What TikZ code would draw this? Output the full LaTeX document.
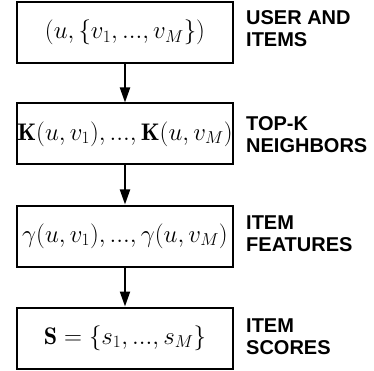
\documentclass[tikz,border=0pt]{standalone}
\usepackage{fontspec}
\newfontfamily\labfont{Liberation Sans}
\usetikzlibrary{arrows.meta}
\tikzset{
  stagebox/.style={draw, line width=2pt, minimum width=216pt, minimum height=61pt, inner sep=0pt,
    font=\fontsize{24}{28}\selectfont},
  stagelabel/.style={anchor=west, align=left, inner sep=0pt, font=\labfont\bfseries\fontsize{20}{22}\selectfont},
  flow/.style={line width=2pt, -{Triangle[width=10pt,length=15pt]}}
}
\begin{document}
\begin{tikzpicture}[x=1pt,y=1pt]
\useasboundingbox (0,0) rectangle (374,-371);
\node[stagebox] (b1) at (125,-32.5) {$(u,\{v_1,...,v_M\})$};
\node[stagebox] (b2) at (125,-134) {$\mathbf{K}(u,v_1),...,\mathbf{K}(u,v_M)$};
\node[stagebox] (b3) at (125,-236) {$\gamma(u,v_1),...,\gamma(u,v_M)$};
\node[stagebox] (b4) at (125,-338) {$\mathbf{S}=\{s_1,...,s_M\}$};
\node[stagelabel] (l1) at (246,-28.5) {USER AND\\ITEMS};
\node[stagelabel] (l2) at (246,-135) {TOP-K\\NEIGHBORS};
\node[stagelabel] (l3) at (246,-234) {ITEM\\FEATURES};
\node[stagelabel] (l4) at (246,-337) {ITEM\\SCORES};
\draw[flow] (b1) -- (b2);
\draw[flow] (b2) -- (b3);
\draw[flow] (b3) -- (b4);
\end{tikzpicture}
\end{document}
